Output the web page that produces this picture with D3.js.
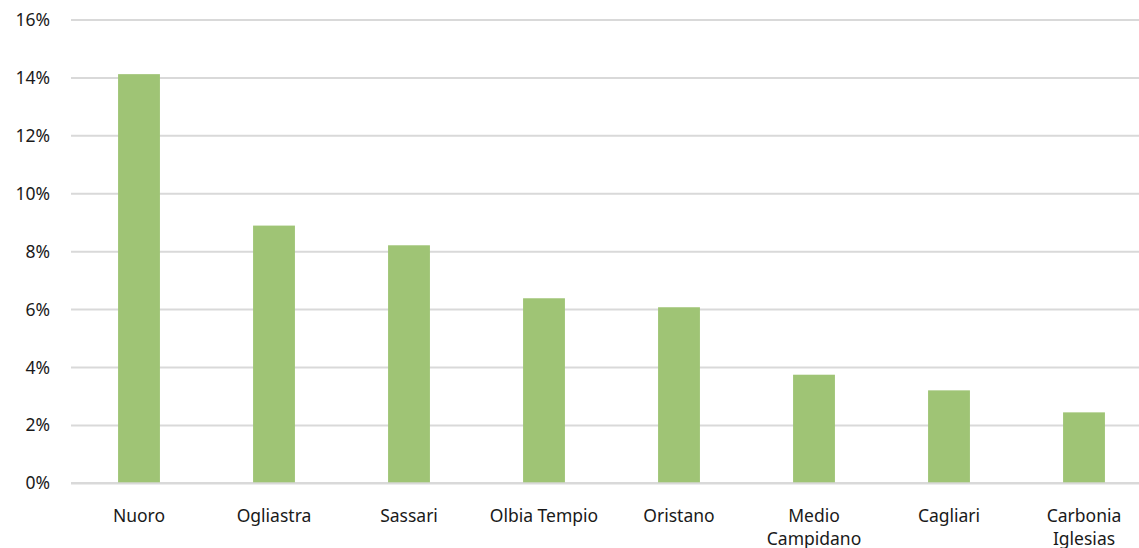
<!DOCTYPE html>
<html><head><meta charset="utf-8">
<script src="https://cdn.jsdelivr.net/npm/d3@7"></script>
<style>body{margin:0;background:#fff;} svg{display:block;}</style>
</head><body>
<svg id="c" width="1139" height="548"></svg>
<script>
const categories = [["Nuoro"],["Ogliastra"],["Sassari"],["Olbia Tempio"],["Oristano"],["Medio","Campidano"],["Cagliari"],["Carbonia","Iglesias"]];
const values = [0.1413, 0.0890, 0.0822, 0.0639, 0.0608, 0.0375, 0.0321, 0.0245];
const yTicks = [0, 0.02, 0.04, 0.06, 0.08, 0.10, 0.12, 0.14, 0.16];

const svg = d3.select("#c");
const font = "'Noto Sans', Roboto, sans-serif";
const fs = 17.5;
const keys = categories.map(c => c.join(" "));
const x = d3.scaleBand().domain(keys).range([71.5, 1151.5]).paddingInner(0.69).paddingOuter(0.345);
const y = d3.scaleLinear().domain([0, 0.16]).range([483.3, 20]);

// gridlines
svg.append("g").selectAll("line").data(yTicks).join("line")
  .attr("x1", 71).attr("x2", 1139)
  .attr("y1", d => y(d)).attr("y2", d => y(d))
  .attr("stroke", "#d9d9d9").attr("stroke-width", d => d === 0 ? 2.5 : 2);

// y labels
const yAxis = d3.axisLeft(y).tickValues(yTicks).tickFormat(d3.format(".0%")).tickSize(0).tickPadding(0);
const ya = svg.append("g").attr("transform", "translate(50,0)").call(yAxis);
ya.select(".domain").remove();
ya.selectAll("text").attr("font-family", font).attr("font-size", fs).attr("fill", "#1a1a1a");

// bars
svg.append("g").selectAll("rect").data(values).join("rect")
  .attr("x", (d, i) => x(keys[i]))
  .attr("width", x.bandwidth())
  .attr("y", d => y(d))
  .attr("height", d => y(0) - y(d) - 1)
  .attr("fill", "#9fc475");

// x labels
const xl = svg.append("g").selectAll("text").data(categories).join("text")
  .attr("x", (d, i) => x(keys[i]) + x.bandwidth() / 2)
  .attr("y", 522)
  .attr("text-anchor", "middle")
  .attr("font-family", font).attr("font-size", fs).attr("fill", "#1a1a1a");
xl.each(function(d) {
  const t = d3.select(this);
  d.forEach((line, j) => {
    t.append("tspan").attr("x", t.attr("x")).attr("dy", j === 0 ? 0 : 23).text(line);
  });
});
</script>
</body></html>
